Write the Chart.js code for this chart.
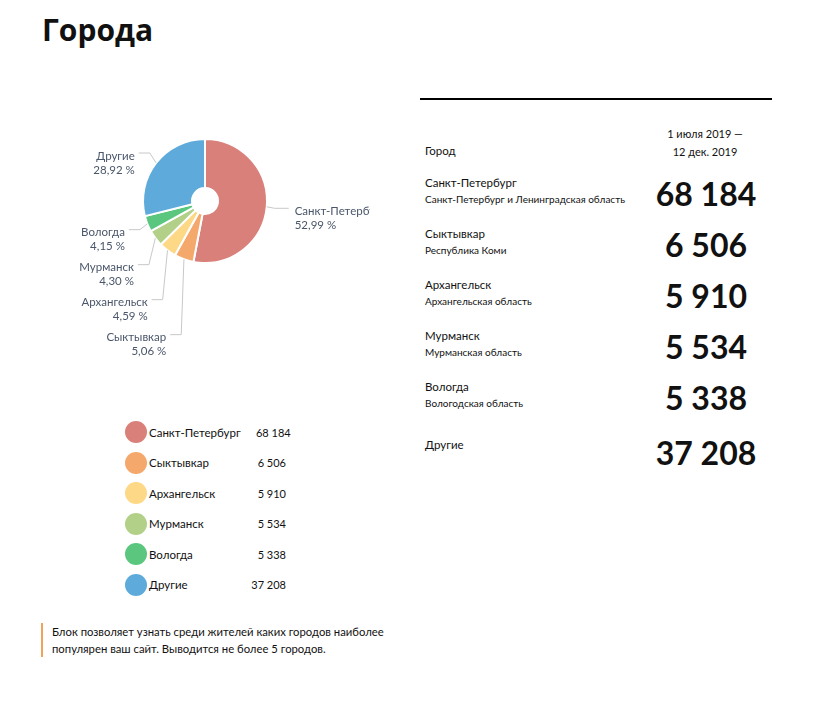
<!DOCTYPE html>
<html>
<head>
<meta charset="utf-8">
<script src="https://cdn.jsdelivr.net/npm/chart.js@4.4.0/dist/chart.umd.min.js"></script>
<style>
  html, body { margin:0; padding:0; background:#fff; }
  body { width:817px; height:704px; position:relative; font-family: Lato, "Liberation Sans", sans-serif; color:#111; overflow:hidden; }
  #title { position:absolute; left:42px; top:12px; font-family:"Open Sans", Lato, sans-serif; font-size:30px; font-weight:700; margin:0; line-height:36px; }
  #pieWrap { position:absolute; left:60px; top:110px; width:310px; height:260px; }
  #legend { position:absolute; left:125px; top:417px; width:161px; }
  .lg-row { display:flex; align-items:center; height:30.5px; width:161px; }
  .lg-dot { flex:0 0 22px; width:22px; height:22px; border-radius:50%; }
  .lg-name { flex:1 1 auto; margin-left:2px; font-size:11.5px; white-space:nowrap; }
  .lg-val { flex:0 0 50px; text-align:right; font-size:11px; white-space:nowrap; }
  #table { position:absolute; left:420px; top:98px; width:352px; }
  #topLine { position:absolute; left:0; top:0; width:352px; height:2px; background:#000; }
  .hdr-city { position:absolute; left:5px; top:46px; font-size:11.5px; }
  .hdr-date { position:absolute; left:235px; width:100px; top:27px; font-size:11px; text-align:center; line-height:18px; }
  .row-name { position:absolute; left:5px; font-size:11.5px; white-space:nowrap; }
  .row-region { position:absolute; left:5px; font-size:10px; white-space:nowrap; }
  .row-num { position:absolute; left:206px; width:160px; text-align:center; font-size:32px; font-weight:700; white-space:nowrap; }
  #note { position:absolute; left:41px; top:623px; border-left:2px solid #f0a35a; padding-left:9px; font-size:11.3px; line-height:17px; width:360px; }
</style>
</head>
<body>
<h1 id="title">Города</h1>
<div id="pieWrap"><canvas id="pie" width="310" height="260"></canvas></div>
<div id="legend"></div>
<div id="table"><div id="topLine"></div></div>
<div id="note">Блок позволяет узнать среди жителей каких городов наиболее<br>популярен ваш сайт. Выводится не более 5 городов.</div>
<script>
const cities = ['Санкт-Петербург', 'Сыктывкар', 'Архангельск', 'Мурманск', 'Вологда', 'Другие'];
const regions = ['Санкт-Петербург и Ленинградская область', 'Республика Коми', 'Архангельская область', 'Мурманская область', 'Вологодская область', ''];
const visits = [68184, 6506, 5910, 5534, 5338, 37208];
const colors = ['#d9807a', '#f4a86b', '#fdd987', '#b2d088', '#5bc77e', '#5eabdb'];
const periodLabel = ['1 июля 2019 —', '12 дек. 2019'];

function fmt(n) { return String(n).replace(/\B(?=(\d{3})+(?!\d))/g, ' '); }
const total = visits.reduce((a, b) => a + b, 0);
const pct = visits.map(v => (v / total * 100).toFixed(2).replace('.', ',') + ' %');

// Legend
const lg = document.getElementById('legend');
cities.forEach((c, i) => {
  const r = document.createElement('div'); r.className = 'lg-row';
  r.innerHTML = '<div class="lg-dot" style="background:' + colors[i] + '"></div><div class="lg-name">' + c + '</div><div class="lg-val">' + fmt(visits[i]) + '</div>';
  lg.appendChild(r);
});

// Table
const tb = document.getElementById('table');
const h1 = document.createElement('div'); h1.className = 'hdr-city'; h1.textContent = 'Город'; tb.appendChild(h1);
const h2 = document.createElement('div'); h2.className = 'hdr-date'; h2.innerHTML = periodLabel.join('<br>'); tb.appendChild(h2);
const rowTops = [78, 129, 180, 231, 282, 340];
cities.forEach((c, i) => {
  const t = rowTops[i];
  const n = document.createElement('div'); n.className = 'row-name'; n.style.top = t + 'px'; n.textContent = c; tb.appendChild(n);
  if (regions[i]) {
    const g = document.createElement('div'); g.className = 'row-region'; g.style.top = (t + 17) + 'px'; g.textContent = regions[i]; tb.appendChild(g);
  }
  const v = document.createElement('div'); v.className = 'row-num'; v.style.top = (t - 2 + (regions[i] ? 0 : -3)) + 'px'; v.textContent = fmt(visits[i]); tb.appendChild(v);
});

// Pie labels plugin
const outLabels = {
  id: 'outLabels',
  afterDatasetsDraw(chart) {
    const ctx = chart.ctx;
    const meta = chart.getDatasetMeta(0);
    const items = meta.data.map((arc, i) => {
      const p = arc.getProps(['x', 'y', 'startAngle', 'endAngle', 'outerRadius'], true);
      const mid = (p.startAngle + p.endAngle) / 2;
      const cos = Math.cos(mid), sin = Math.sin(mid);
      return {
        i, cx: p.x, cy: p.y, R: p.outerRadius, cos, sin,
        ex: p.x + cos * p.outerRadius, ey: p.y + sin * p.outerRadius,
        ly: p.y + sin * (p.outerRadius + 16),
        left: cos < 0
      };
    });
    [true, false].forEach(side => {
      const s = items.filter(o => o.left === side).sort((a, b) => a.ly - b.ly);
      for (let k = 1; k < s.length; k++) {
        if (s[k].ly < s[k - 1].ly + 35) s[k].ly = s[k - 1].ly + 35;
      }
    });
    ctx.save();
    ctx.font = '11.5px Lato, "Liberation Sans", sans-serif';
    items.forEach(o => {
      const dir = o.left ? -1 : 1;
      const elbowX = o.cx + o.cos * (o.R + 8);
      const anchorX = elbowX + dir * (o.left ? 11 : 14);
      ctx.strokeStyle = '#c8c8c8';
      ctx.lineWidth = 1;
      ctx.beginPath();
      ctx.moveTo(o.ex, o.ey);
      ctx.lineTo(elbowX, o.ly);
      ctx.lineTo(anchorX, o.ly);
      ctx.stroke();
      ctx.fillStyle = '#4a566a';
      ctx.textAlign = o.left ? 'right' : 'left';
      ctx.textBaseline = 'middle';
      const tx = anchorX + dir * (o.left ? 4 : 6);
      ctx.fillText(cities[o.i], tx, o.ly + 3);
      ctx.fillText(pct[o.i], tx, o.ly + 17);
    });
    ctx.restore();
  }
};

new Chart(document.getElementById('pie'), {
  type: 'doughnut',
  data: {
    labels: cities,
    datasets: [{ data: visits, backgroundColor: colors, borderColor: '#ffffff', borderWidth: 2, hoverOffset: 0 }]
  },
  options: {
    responsive: false,
    animation: false,
    cutout: '21%',
    layout: { padding: { top: 28, bottom: 106, left: 82, right: 102 } },
    plugins: { legend: { display: false }, tooltip: { enabled: false } }
  },
  plugins: [outLabels]
});
</script>
</body>
</html>
